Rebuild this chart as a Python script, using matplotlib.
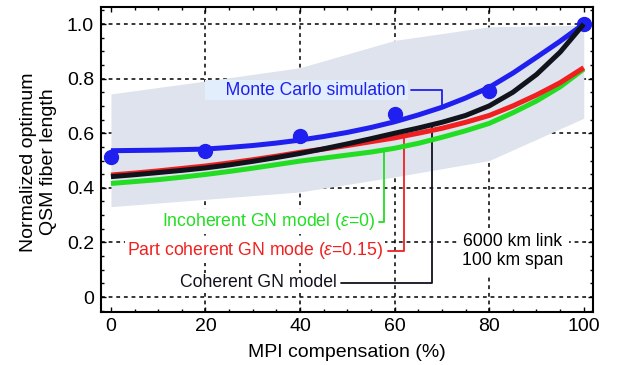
import numpy as np
import matplotlib
matplotlib.use("Agg")
import matplotlib.pyplot as plt
from matplotlib.ticker import MultipleLocator, FuncFormatter

plt.rcParams['font.family'] = ['Liberation Sans', 'DejaVu Sans']
plt.rcParams['mathtext.fontset'] = 'custom'
plt.rcParams['mathtext.it'] = 'Liberation Sans:italic'
plt.rcParams['mathtext.rm'] = 'Liberation Sans'

# 数据
mpi = [0, 5, 10, 15, 20, 25, 30, 35, 40, 45, 50, 55, 60, 65, 70, 75, 80, 85, 90, 95, 100]
coherent = [0.441, 0.448, 0.456, 0.464, 0.473, 0.484, 0.497, 0.511, 0.526, 0.543, 0.561,
            0.580, 0.600, 0.619, 0.640, 0.665, 0.700, 0.750, 0.815, 0.897, 1.000]
part_coherent = [0.447, 0.454, 0.462, 0.471, 0.480, 0.491, 0.503, 0.516, 0.530, 0.542, 0.555,
                 0.569, 0.583, 0.600, 0.618, 0.640, 0.665, 0.700, 0.740, 0.785, 0.840]
incoherent = [0.416, 0.423, 0.430, 0.439, 0.449, 0.460, 0.472, 0.485, 0.498, 0.509, 0.520,
              0.531, 0.545, 0.563, 0.585, 0.609, 0.636, 0.675, 0.718, 0.770, 0.835]
mc_fit = [0.536, 0.537, 0.538, 0.540, 0.542, 0.548, 0.555, 0.564, 0.575, 0.588, 0.603,
          0.621, 0.642, 0.667, 0.695, 0.729, 0.768, 0.820, 0.878, 0.937, 1.000]

mc_x = [0, 20, 40, 60, 80, 100]
mc_pts = [0.513, 0.535, 0.590, 0.672, 0.756, 1.000]

band_x = [0, 20, 40, 60, 80, 100]
band_hi = [0.744, 0.791, 0.840, 0.940, 0.990, 0.995]
band_lo = [0.331, 0.358, 0.385, 0.440, 0.500, 0.655]

BLUE = '#1f1ff0'
RED = '#f02020'
GREEN = '#22dd22'
BLACK = '#10131c'

fig = plt.figure(figsize=(6.17, 3.65), dpi=100)
ax = fig.add_axes([0.1637, 0.145, 0.797, 0.8356])

ax.fill_between(band_x, band_lo, band_hi, color='#dee3ed', lw=0, zorder=1)

ax.plot(mpi, incoherent, color=GREEN, lw=3.6, zorder=3, solid_capstyle='butt')
ax.plot(mpi, part_coherent, color=RED, lw=3.6, zorder=3.1, solid_capstyle='butt')
ax.plot(mpi, mc_fit, color=BLUE, lw=3.6, zorder=3.2, solid_capstyle='butt')
ax.plot(mc_x, mc_pts, 'o', color=BLUE, ms=10, zorder=3.3)
ax.plot(mpi, coherent, color=BLACK, lw=3.6, zorder=3.4, solid_capstyle='butt')

ax.set_xlim(-2.1, 101.9)
ax.set_ylim(-0.055, 1.062)
ax.xaxis.set_major_locator(MultipleLocator(20))
ax.xaxis.set_minor_locator(MultipleLocator(5))
ax.yaxis.set_major_locator(MultipleLocator(0.2))
ax.yaxis.set_minor_locator(MultipleLocator(0.05))
ax.yaxis.set_major_formatter(FuncFormatter(lambda v, p: '0' if abs(v) < 1e-9 else f'{v:.1f}'))
ax.tick_params(which='both', direction='in', top=True, right=True, labelsize=14, width=1)
ax.tick_params(which='major', length=3.5)
ax.tick_params(which='minor', length=2)
ax.tick_params(axis='x', pad=4)
ax.tick_params(axis='y', pad=5)
for s in ax.spines.values():
    s.set_linewidth(1.5)

# grid
for gx in [20, 40, 60, 80]:
    ax.axvline(gx, color='k', lw=1.1, ls=(0, (2.5, 2.5)), zorder=0.5)
for gy in [0, 0.2, 0.4, 0.6, 0.8, 1.0]:
    ax.axhline(gy, color='k', lw=1.1, ls=(0, (2.5, 2.5)), zorder=0.5)

ax.set_xlabel('MPI compensation (%)', fontsize=14, labelpad=7)
fig.text(38.5 / 617, 1 - 162 / 365, 'Normalized optimum\nQSM fiber length', rotation=90,
         ha='center', va='center', fontsize=14, multialignment='center', linespacing=1.2)

fs = 12.7


def leader(label, color, tx, ty, lx, series, bg='white', z=2.5):
    ly = np.interp(lx, mpi, series)
    ax.annotate(label, xy=(lx, ly), xytext=(tx, ty), ha='right', va='center',
                fontsize=fs, color=color, zorder=z,
                bbox=dict(boxstyle='square,pad=0.1', fc=bg, ec='none'),
                arrowprops=dict(arrowstyle='-', color=color, lw=1.3, shrinkA=2, shrinkB=0,
                                relpos=(1, 0.5),
                                connectionstyle='angle,angleA=0,angleB=90,rad=0'))


leader('    Monte Carlo simulation', BLUE, 62.4, 0.758, 70.0, mc_fit, bg='#e2eefb')
leader(r'Incoherent GN model ($\varepsilon$=0)', GREEN, 55.8, 0.276, 57.8, incoherent)
leader(r'Part coherent GN mode ($\varepsilon$=0.15)', RED, 57.6, 0.169, 61.9, part_coherent)
leader('Coherent GN model', BLACK, 47.7, 0.052, 67.9, coherent)

ax.text(85, 0.168, '6000 km link\n100 km span', ha='center', va='center', fontsize=fs,
        linespacing=1.15, zorder=2.5,
        bbox=dict(boxstyle='square,pad=0.3', fc='white', ec='none'))

fig.savefig('out.png', dpi=100)
